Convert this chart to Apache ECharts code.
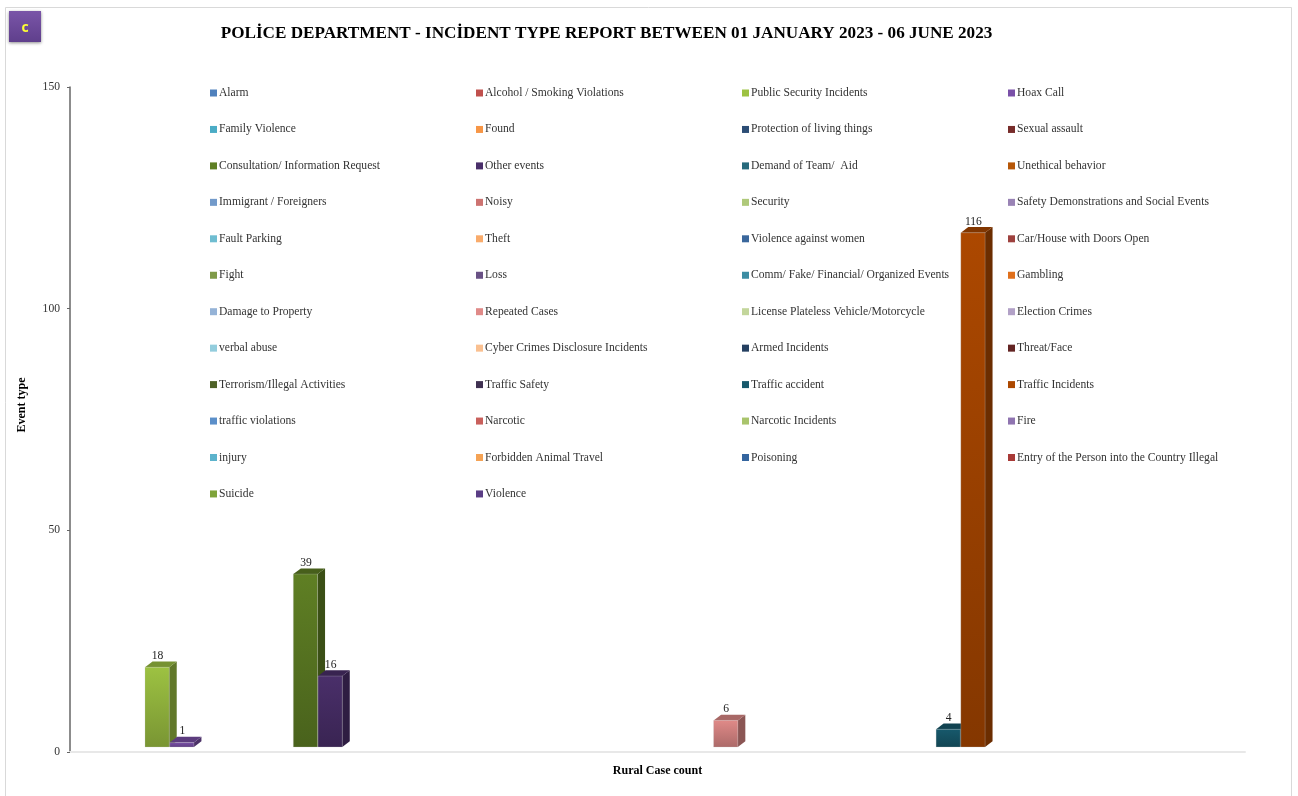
<!DOCTYPE html>
<html>
<head>
<meta charset="utf-8">
<title>Incident type report</title>
<style>
html, body { margin: 0; padding: 0; background: #fff; }
#main { width: 1298px; height: 796px; }
</style>
<script src="https://cdn.jsdelivr.net/npm/echarts@6/dist/echarts.min.js"></script>
</head>
<body>
<div id="main"></div>
<script>
var titleText = 'POLİCE DEPARTMENT - INCİDENT TYPE REPORT BETWEEN 01 JANUARY 2023 - 06 JUNE 2023';
var categories = ['Rural Case count'];
var yTicks = [0, 50, 100, 150];

var eventNames = [
	'Alarm', 'Alcohol / Smoking Violations', 'Public Security Incidents', 'Hoax Call',
	'Family Violence', 'Found', 'Protection of living things', 'Sexual assault',
	'Consultation/ Information Request', 'Other events', 'Demand of Team/  Aid', 'Unethical behavior',
	'Immigrant / Foreigners', 'Noisy', 'Security', 'Safety Demonstrations and Social Events',
	'Fault Parking', 'Theft', 'Violence against women', 'Car/House with Doors Open',
	'Fight', 'Loss', 'Comm/ Fake/ Financial/ Organized Events', 'Gambling',
	'Damage to Property', 'Repeated Cases', 'License Plateless Vehicle/Motorcycle', 'Election Crimes',
	'verbal abuse', 'Cyber Crimes Disclosure Incidents', 'Armed Incidents', 'Threat/Face',
	'Terrorism/Illegal Activities', 'Traffic Safety', 'Traffic accident', 'Traffic Incidents',
	'traffic violations', 'Narcotic', 'Narcotic Incidents', 'Fire',
	'injury', 'Forbidden Animal Travel', 'Poisoning', 'Entry of the Person into the Country Illegal',
	'Suicide', 'Violence'
];
// null = no cases, nothing drawn
var eventValues = [
	null, null, 18, 1,
	null, null, null, null,
	39, 16, null, null,
	null, null, null, null,
	null, null, null, null,
	null, null, null, null,
	null, 6, null, null,
	null, null, null, null,
	null, null, 4, 116,
	null, null, null, null,
	null, null, null, null,
	null, null
];
var eventColors = [
	'#4f81bd', '#c0504d', '#9dc242', '#7a50a8',
	'#4bacc6', '#f79646', '#2c4d75', '#772c2a',
	'#5f7f24', '#4a2f6a', '#276a7c', '#b65708',
	'#729aca', '#cd7371', '#afc97a', '#9983b5',
	'#6fbdd1', '#f9ab6b', '#3a679c', '#9e413e',
	'#7f9a48', '#695185', '#3c8da3', '#e0701c',
	'#95b3d7', '#e08a88', '#c3d69b', '#b2a1c7',
	'#93cddd', '#fac090', '#254061', '#632423',
	'#4f6228', '#3f3151', '#17596c', '#ac4800',
	'#5b8fc9', '#c9605c', '#a9c46c', '#8f74b0',
	'#5cb3cc', '#f5a355', '#34659f', '#a83a37',
	'#7ea33a', '#5a3d85'
];

var chartDom = document.getElementById('main');
var myChart = echarts.init(chartDom);

var serifFont = '"Liberation Serif", "DejaVu Serif", serif';

// the picture is an excel 3d column, so the depth is drawn by hand
var depthX = 7.5, depthY = 5.7, floorLift = 5;

// echarts.color.lift only goes lighter, so darken by hand
function shade(col, k) {
	var c = echarts.color.parse(col);
	return 'rgb(' + Math.round(c[0] * k) + ',' + Math.round(c[1] * k) + ',' + Math.round(c[2] * k) + ')';
}

function renderBar(params, api) {
	var val = api.value(1);
	var base = api.coord([0, 0]);
	var top = api.coord([0, val]);
	var band = api.size([1, 0])[0];
	var step = band * 0.02104;
	var x0 = base[0] - band / 2 + band * 0.02175 + params.seriesIndex * step;
	var x1 = x0 + step - 0.5;
	var y0 = base[1] - floorLift;
	var y1 = top[1] - floorLift;
	var col = eventColors[params.seriesIndex];
	var front = new echarts.graphic.LinearGradient(0, 0, 0, 1, [
		{ offset: 0, color: col },
		{ offset: 1, color: shade(col, 0.77) }
	]);
	return {
		type: 'group',
		children: [
			{
				type: 'polygon',
				shape: { points: [[x1, y0], [x1 + depthX, y0 - depthY], [x1 + depthX, y1 - depthY], [x1, y1]] },
				style: { fill: shade(col, 0.62) }
			},
			{
				type: 'polygon',
				shape: { points: [[x0, y1], [x0 + depthX, y1 - depthY], [x1 + depthX, y1 - depthY], [x1, y1]] },
				style: { fill: shade(col, 0.75) }
			},
			{
				type: 'rect',
				shape: { x: x0, y: y1, width: x1 - x0, height: y0 - y1 },
				style: { fill: front, stroke: 'rgba(200,200,200,0.5)', lineWidth: 0.5 }
			},
			{
				type: 'text',
				style: {
					text: String(val),
					x: (x0 + x1) / 2 + 0.5,
					y: y1 - depthY + 0.5,
					align: 'center',
					verticalAlign: 'bottom',
					fill: '#222',
					font: '11.6px ' + serifFont
				}
			}
		]
	};
}

var seriesList = eventNames.map(function (name, i) {
	return {
		name: name,
		type: 'custom',
		renderItem: renderBar,
		itemStyle: { color: eventColors[i] },
		encode: { x: 0, y: 1 },
		clip: false,
		data: eventValues[i] === null ? [] : [[categories[0], eventValues[i]]]
	};
});

// four legend columns, reading order runs across the rows
var legendLefts = [210, 476, 742, 1008];
var legendList = legendLefts.map(function (left, col) {
	return {
		orient: 'vertical',
		left: left,
		top: 87,
		padding: 0,
		itemWidth: 7,
		itemHeight: 7,
		itemGap: 24.45,
		icon: 'rect',
		selectedMode: false,
		textStyle: { fontFamily: serifFont, fontSize: 11.6, color: '#333', padding: [0, 0, 0, -3] },
		data: eventNames.filter(function (n, i) { return i % 4 === col; })
	};
});

var option = {
	animation: false,
	backgroundColor: '#fff',
	title: {
		text: titleText,
		left: 601.5,
		top: 20,
		textAlign: 'center',
		textStyle: { fontFamily: serifFont, fontSize: 17.15, fontWeight: 'bold', color: '#000' }
	},
	legend: legendList,
	grid: { left: 70, right: 53, top: 87, bottom: 44 },
	xAxis: {
		type: 'category',
		data: categories,
		name: categories[0],
		nameLocation: 'middle',
		nameGap: 13,
		nameTextStyle: { fontFamily: serifFont, fontSize: 12, fontWeight: 'bold', color: '#000' },
		axisLine: { lineStyle: { color: '#e8e8e8', width: 2 } },
		axisTick: { show: false },
		axisLabel: { show: false }
	},
	yAxis: {
		type: 'value',
		min: yTicks[0],
		max: yTicks[3],
		interval: yTicks[1],
		name: 'Event type',
		nameLocation: 'middle',
		nameGap: 42,
		nameTextStyle: { fontFamily: serifFont, fontSize: 12, fontWeight: 'bold', color: '#000', padding: [0, 0, 0, 29] },
		axisLine: { show: true, lineStyle: { color: '#666', width: 1.5 } },
		axisTick: { show: true, length: 3, lineStyle: { color: '#666' } },
		axisLabel: { fontFamily: serifFont, fontSize: 11.6, color: '#333', margin: 10 },
		splitLine: { show: false }
	},
	series: seriesList,
	graphic: [
		{
			type: 'rect',
			silent: true,
			z: -1,
			shape: { x: 5.5, y: 7.5, width: 1286, height: 800 },
			style: { fill: 'none', stroke: '#d9d9d9', lineWidth: 1 }
		},
		{
			type: 'rect',
			silent: true,
			shape: { x: 9, y: 11, width: 32, height: 31 },
			style: {
				fill: new echarts.graphic.LinearGradient(0, 0, 0, 1, [
					{ offset: 0, color: '#7a55a8' },
					{ offset: 1, color: '#5f3f8c' }
				]),
				shadowBlur: 3,
				shadowColor: 'rgba(0,0,0,0.45)',
				shadowOffsetY: 1
			}
		},
		{
			type: 'text',
			silent: true,
			style: {
				text: 'c',
				x: 25,
				y: 28,
				align: 'center',
				verticalAlign: 'middle',
				fill: '#ffff33',
				font: 'bold 14px "Open Sans", sans-serif'
			}
		}
	]
};

myChart.setOption(option);
window.addEventListener('resize', function () {
	myChart.resize();
});
</script>
</body>
</html>
